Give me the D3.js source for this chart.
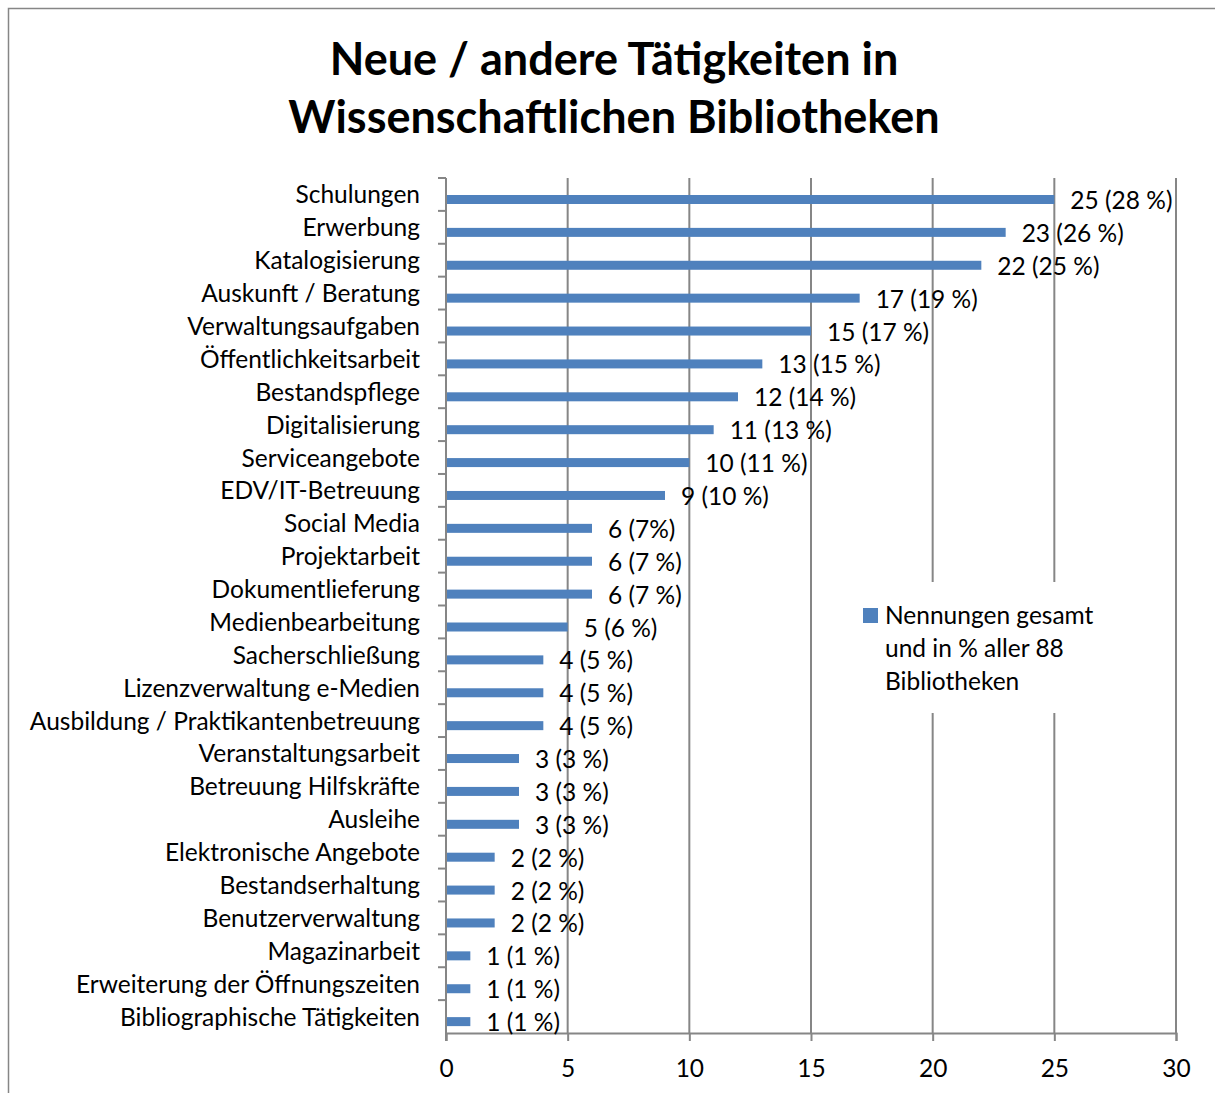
<!DOCTYPE html>
<meta charset="utf-8">
<title>Neue / andere Tätigkeiten</title>
<style>
  body { margin: 0; background: #fff; }
  text { font-family: Lato, "Open Sans", sans-serif; }
</style>
<body>
<script src="https://d3js.org/d3.v7.min.js"></script>
<div id="chart"></div>
<script>
// categories, top to bottom
var categories = [
  "Schulungen", "Erwerbung", "Katalogisierung", "Auskunft / Beratung",
  "Verwaltungsaufgaben", "Öffentlichkeitsarbeit", "Bestandspflege",
  "Digitalisierung", "Serviceangebote", "EDV/IT-Betreuung", "Social Media",
  "Projektarbeit", "Dokumentlieferung", "Medienbearbeitung", "Sacherschließung",
  "Lizenzverwaltung e-Medien", "Ausbildung / Praktikantenbetreuung",
  "Veranstaltungsarbeit", "Betreuung Hilfskräfte", "Ausleihe",
  "Elektronische Angebote", "Bestandserhaltung", "Benutzerverwaltung",
  "Magazinarbeit", "Erweiterung der Öffnungszeiten", "Bibliographische Tätigkeiten"
];
var values = [25, 23, 22, 17, 15, 13, 12, 11, 10, 9, 6, 6, 6, 5, 4, 4, 4, 3, 3, 3, 2, 2, 2, 1, 1, 1];
var valueLabels = [
  "25 (28 %)", "23 (26 %)", "22 (25 %)", "17 (19 %)", "15 (17 %)", "13 (15 %)",
  "12 (14 %)", "11 (13 %)", "10 (11 %)", "9 (10 %)", "6 (7%)", "6 (7 %)", "6 (7 %)",
  "5 (6 %)", "4 (5 %)", "4 (5 %)", "4 (5 %)", "3 (3 %)", "3 (3 %)", "3 (3 %)",
  "2 (2 %)", "2 (2 %)", "2 (2 %)", "1 (1 %)", "1 (1 %)", "1 (1 %)"
];
var xTicks = [0, 5, 10, 15, 20, 25, 30];
var titleLines = ["Neue / andere Tätigkeiten in", "Wissenschaftlichen Bibliotheken"];
var legendLines = ["Nennungen gesamt", "und in % aller 88", "Bibliotheken"];

var W = 1215, H = 1093;
var plotL = 446, plotR = 1176, plotT = 178, plotB = 1033;
var barColor = "#4f81bd", gridColor = "#868686";
var fs = 24.5;

var svg = d3.select("#chart").append("svg")
  .attr("width", W).attr("height", H);

// outer frame
svg.append("rect")
  .attr("x", 8.5).attr("y", 8.5).attr("width", W + 20).attr("height", H + 20)
  .attr("fill", "#fff").attr("stroke", gridColor).attr("stroke-width", 1.5);

// title
svg.append("g").selectAll("text").data(titleLines).enter().append("text")
  .attr("x", 614).attr("y", function(d, i) { return 75 + i * 58; })
  .attr("text-anchor", "middle")
  .attr("font-size", 45).attr("font-weight", "bold")
  .text(function(d) { return d; });

var x = d3.scaleLinear().domain([0, 30]).range([plotL, plotR]);
var y = d3.scaleBand().domain(categories).range([plotT, plotB]);

// vertical gridlines
svg.append("g").selectAll("line").data(xTicks.slice(1)).enter().append("line")
  .attr("x1", function(d) { return x(d); }).attr("x2", function(d) { return x(d); })
  .attr("y1", plotT).attr("y2", plotB)
  .attr("stroke", gridColor).attr("stroke-width", 2);

// x axis
var xAxis = svg.append("g")
  .attr("transform", "translate(0," + plotB + ")")
  .call(d3.axisBottom(x).tickValues(xTicks).tickSize(8).tickPadding(19));
xAxis.select(".domain").attr("stroke", gridColor).attr("stroke-width", 2);
xAxis.selectAll(".tick line").attr("stroke", gridColor).attr("stroke-width", 2);
xAxis.selectAll(".tick text").attr("font-size", fs).attr("fill", "#000")
  .attr("font-family", "Lato, 'Open Sans', sans-serif");

// y axis: line plus ticks at band boundaries
var yg = svg.append("g");
yg.append("line").attr("x1", plotL).attr("x2", plotL).attr("y1", plotT).attr("y2", plotB + 8)
  .attr("stroke", gridColor).attr("stroke-width", 2);
yg.selectAll("line.tk").data(categories).enter().append("line").attr("class", "tk")
  .attr("x1", plotL - 8).attr("x2", plotL)
  .attr("y1", function(d) { return y(d); }).attr("y2", function(d) { return y(d); })
  .attr("stroke", gridColor).attr("stroke-width", 2);
yg.selectAll("text").data(categories).enter().append("text")
  .attr("x", 420).attr("y", function(d) { return y(d) + y.bandwidth() / 2 + 9; })
  .attr("text-anchor", "end").attr("font-size", fs)
  .text(function(d) { return d; });

// bars
var rows = categories.map(function(c, i) { return {cat: c, v: values[i], lab: valueLabels[i]}; });
svg.append("g").selectAll("rect").data(rows).enter().append("rect")
  .attr("x", x(0) + 1)
  .attr("y", function(d) { return y(d.cat) + 17; })
  .attr("width", function(d) { return x(d.v) - x(0) - 1; })
  .attr("height", 9)
  .attr("fill", barColor);

// value labels
svg.append("g").selectAll("text").data(rows).enter().append("text")
  .attr("x", function(d) { return x(d.v) + 16; })
  .attr("y", function(d) { return y(d.cat) + 31; })
  .attr("font-size", fs)
  .text(function(d) { return d.lab; });

// legend
var lg = svg.append("g");
lg.append("rect").attr("x", 850).attr("y", 582).attr("width", 256).attr("height", 131).attr("fill", "#fff");
lg.append("rect").attr("x", 863).attr("y", 608).attr("width", 15).attr("height", 15).attr("fill", barColor);
lg.selectAll("text").data(legendLines).enter().append("text")
  .attr("x", 885).attr("y", function(d, i) { return 624 + i * 33; })
  .attr("font-size", fs)
  .text(function(d) { return d; });
</script>
</body>
